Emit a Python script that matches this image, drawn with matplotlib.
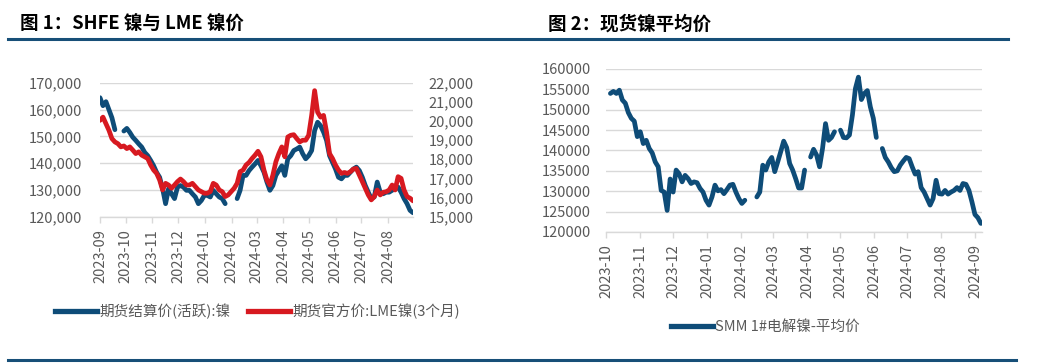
import numpy as np
import pandas as pd
import matplotlib
matplotlib.use("Agg")
import matplotlib.pyplot as plt
import matplotlib.dates as mdates
from matplotlib.ticker import FuncFormatter
from matplotlib.lines import Line2D

plt.rcParams['font.family'] = ['Noto Sans CJK SC', 'DejaVu Sans']
plt.rcParams['axes.unicode_minus'] = False

nan = np.nan

# ---------------- Data: Figure 1 ----------------
fig1_title = "图 1：SHFE 镍与 LME 镍价"
fig1_start, fig1_end = "2023-09-01", "2024-08-30"
shfe_label = "期货结算价(活跃):镍"
lme_label = "期货官方价:LME镍(3个月)"
shfe_nickel = [
    164500, 161500, 163000, 160000, 157000, 152500, nan, nan, 152000, 153000,
    151500, 149700, 148500, 147200, 146000, 144000, 142800, 141000, 139000, 136500,
    134700, 130400, 124800, 130400, 128500, 126700, 131000, 131600, 131000, 129800,
    129800, 128500, 127300, 124800, 126000, 127900, 127900, 127300, 129800, 128500,
    127300, 126700, 124800, nan, nan, nan, 126700, 129800, 135400, 135400,
    137200, 138500, 139700, 141000,
    139000, 136600, 132900, 129800, 131600, 135400, 137200, 139000, 135400, 141600,
    142800, 144700, 145300, 146000, 143500, 141600, 142800, 144700, 152200, 155300,
    154000, 151600, 148500, 142800, 140300, 137800, 134700, 134100, 135400, 135400,
    136600, 137800, 138500, 137200, 134700, 131600, 129100, 126700, 127300, 132900,
    129100, 128500, 129100, 129100, 129800, 130400, 131000, 129100, 126700, 124800,
    122300, 121400,
]
lme_nickel = [
    20040, 20210, 19865, 19520, 19085, 18910, 18820, 18650, 18700, 18560,
    18650, 18480, 18300, 18390, 18215, 18130, 18040, 17700, 17435, 17260,
    16915, 16390, 16740, 16650, 16480, 16650, 16830, 16965, 16830, 16650,
    16650, 16740, 16565, 16390, 16305, 16220, 16220, 16305, 16740, 16650,
    16390, 16305, 16045, 16130, 16305, 16480, 16740, 17350, 17435, 17700,
    17835, 18040, 18215, 18420,
    18130, 17435, 16915, 16650, 17175, 17870, 18300, 18650, 18130, 19170,
    19260, 19290, 19085, 18910, 19000, 19000, 19260, 20300, 21600, 20470,
    20210, 20300, 19430, 18300, 18040, 17700, 17435, 17260, 17310, 17260,
    17350, 17490, 17520, 17175, 16830, 16480, 16130, 15870, 16045, 16390,
    16130, 16270, 16300, 16390, 16650, 16390, 17090, 17000, 16390, 16045,
    15960, 15820,
]
shfe_ticks = [120000, 130000, 140000, 150000, 160000, 170000]
lme_ticks = [15000, 16000, 17000, 18000, 19000, 20000, 21000, 22000]

# ---------------- Data: Figure 2 ----------------
fig2_title = "图 2：现货镍平均价"
fig2_start, fig2_end = "2023-10-05", "2024-09-06"
smm_label = "SMM 1#电解镍-平均价"
smm_nickel = [
    154000, 154500, 154000, 154800, 152400, 151600, 149300, 147900, 147200, 143400,
    144600, 141700, 142500, 140500, 139400, 137200, 136000, 130200, 129800, 125300,
    133000, 129800, 135200, 134300, 132300, 133900, 133100, 131900, 132300, 132100,
    130700, 129800, 127800, 126600, 128600, 131500, 130100, 130400, 129400, 130400,
    131500, 131700, 129800, 128200, 127000, 127800, nan, nan, nan, 128600,
    129800, 136400, 135200, 137200, 138300, 134800, 137200, 139700, 142300, 140700,
    136800, 135200, 133100, 130800, 130800, 135200, nan, 138400, 140300, 138900,
    136000, 140500, 146600, 142500, 143200, 144600, nan, 145000, 143200, 143100,
    143800, 148700, 155200, 158000, 152500, 154000, 154700, 150700, 147900, 143200,
    nan, 140500, 138300, 137200, 135800, 134800, 135000, 136400, 137400, 138300,
    138000, 136000, 134200, 134800, 130900, 129800, 128200, 126600, 128200, 132700,
    129400, 129300, 130200, 129300, 129800, 130200, 130900, 130200, 131900, 131700,
    130200, 127400, 124300, 123500, 122100,
]
smm_ticks = [120000, 125000, 130000, 135000, 140000, 145000, 150000, 155000, 160000]

# ---------------- Style ----------------
W, H = 1038, 363
BLUE = "#0E4C78"
RED = "#D71920"
GRID = "#D9D9D9"
TXT = "#595959"
HEAD = "#174F78"
FS = 10.5
LW = 3.4

fig = plt.figure(figsize=(W / 100, H / 100), dpi=100)


def fx(px):
    return px / W


def fy(py):
    return 1 - py / H


def style_date_axis(ax):
    for s in ["top", "left", "right"]:
        ax.spines[s].set_visible(False)
    ax.spines["bottom"].set_color(GRID)
    ax.spines["bottom"].set_linewidth(1)
    ax.xaxis.set_major_locator(mdates.MonthLocator())
    ax.xaxis.set_major_formatter(mdates.DateFormatter("%Y-%m"))
    ax.tick_params(axis="x", colors=GRID, length=4, width=1, labelcolor=TXT,
                   labelsize=FS, labelrotation=90, pad=5)
    ax.tick_params(axis="y", length=0, labelcolor=TXT, labelsize=FS)
    ax.grid(axis="y", color=GRID, linewidth=1)
    ax.set_axisbelow(True)


# ---------------- Figure 1 ----------------
ax1 = fig.add_axes([fx(100), fy(216.5), fx(313), (216.5 - 83) / H])
d1 = pd.date_range(fig1_start, fig1_end, periods=len(shfe_nickel))
ax1.plot(d1, shfe_nickel, color=BLUE, lw=LW, solid_capstyle="round", label=shfe_label)
ax1.set_ylim(shfe_ticks[0], shfe_ticks[-1])
ax1.set_yticks(shfe_ticks)
ax1.yaxis.set_major_formatter(FuncFormatter(lambda v, p: f"{v:,.0f}"))
ax1.set_xlim(pd.Timestamp(fig1_start), pd.Timestamp(fig1_end))
style_date_axis(ax1)
ax1.tick_params(axis="y", pad=13)

ax1b = ax1.twinx()
ax1b.plot(d1, lme_nickel, color=RED, lw=LW, solid_capstyle="round", label=lme_label)
ax1b.set_ylim(lme_ticks[0], lme_ticks[-1])
ax1b.set_yticks(lme_ticks)
ax1b.yaxis.set_major_formatter(FuncFormatter(lambda v, p: f"{v:,.0f}"))
for s in ax1b.spines.values():
    s.set_visible(False)
ax1b.tick_params(axis="y", length=0, labelcolor=TXT, labelsize=FS, pad=11)

h1 = [Line2D([0], [0], color=BLUE, lw=3.8), Line2D([0], [0], color=RED, lw=3.8)]
fig.legend(h1, [shfe_label, lme_label], loc="center left",
           bbox_to_anchor=(fx(55), fy(311.7)), ncol=2, frameon=False,
           fontsize=FS, handlelength=2.9, handletextpad=0.15, columnspacing=1.2,
           borderpad=0, borderaxespad=0, labelcolor=TXT)

fig.text(fx(20), fy(24), fig1_title, fontsize=13.3, fontweight="bold",
         va="center", ha="left", color="black")

# ---------------- Figure 2 ----------------
ax2 = fig.add_axes([fx(606), fy(232), fx(376), (232 - 69) / H])
d2 = pd.date_range(fig2_start, fig2_end, periods=len(smm_nickel))
ax2.plot(d2, smm_nickel, color=BLUE, lw=LW, solid_capstyle="round")
ax2.set_ylim(smm_ticks[0], smm_ticks[-1])
ax2.set_yticks(smm_ticks)
ax2.yaxis.set_major_formatter(FuncFormatter(lambda v, p: f"{v:.0f}"))
ax2.set_xlim(pd.Timestamp("2023-10-01"), pd.Timestamp("2024-09-07"))
style_date_axis(ax2)
ax2.tick_params(axis="y", pad=11)

h2 = [Line2D([0], [0], color=BLUE, lw=3.8)]
fig.legend(h2, [smm_label], loc="center left",
           bbox_to_anchor=(fx(671), fy(327.3)), frameon=False,
           fontsize=FS, handlelength=2.9, handletextpad=0.15,
           borderpad=0, borderaxespad=0, labelcolor=TXT)

fig.text(fx(548), fy(24), fig2_title, fontsize=13.3, fontweight="bold",
         va="center", ha="left", color="black")

# header / footer rules
fig.add_artist(Line2D([fx(8), fx(1008)], [fy(39), fy(39)], color=HEAD, lw=2.2))
fig.add_artist(Line2D([fx(8), fx(1016)], [fy(360), fy(360)], color=HEAD, lw=2.2))

fig.savefig("out.png", dpi=100)
